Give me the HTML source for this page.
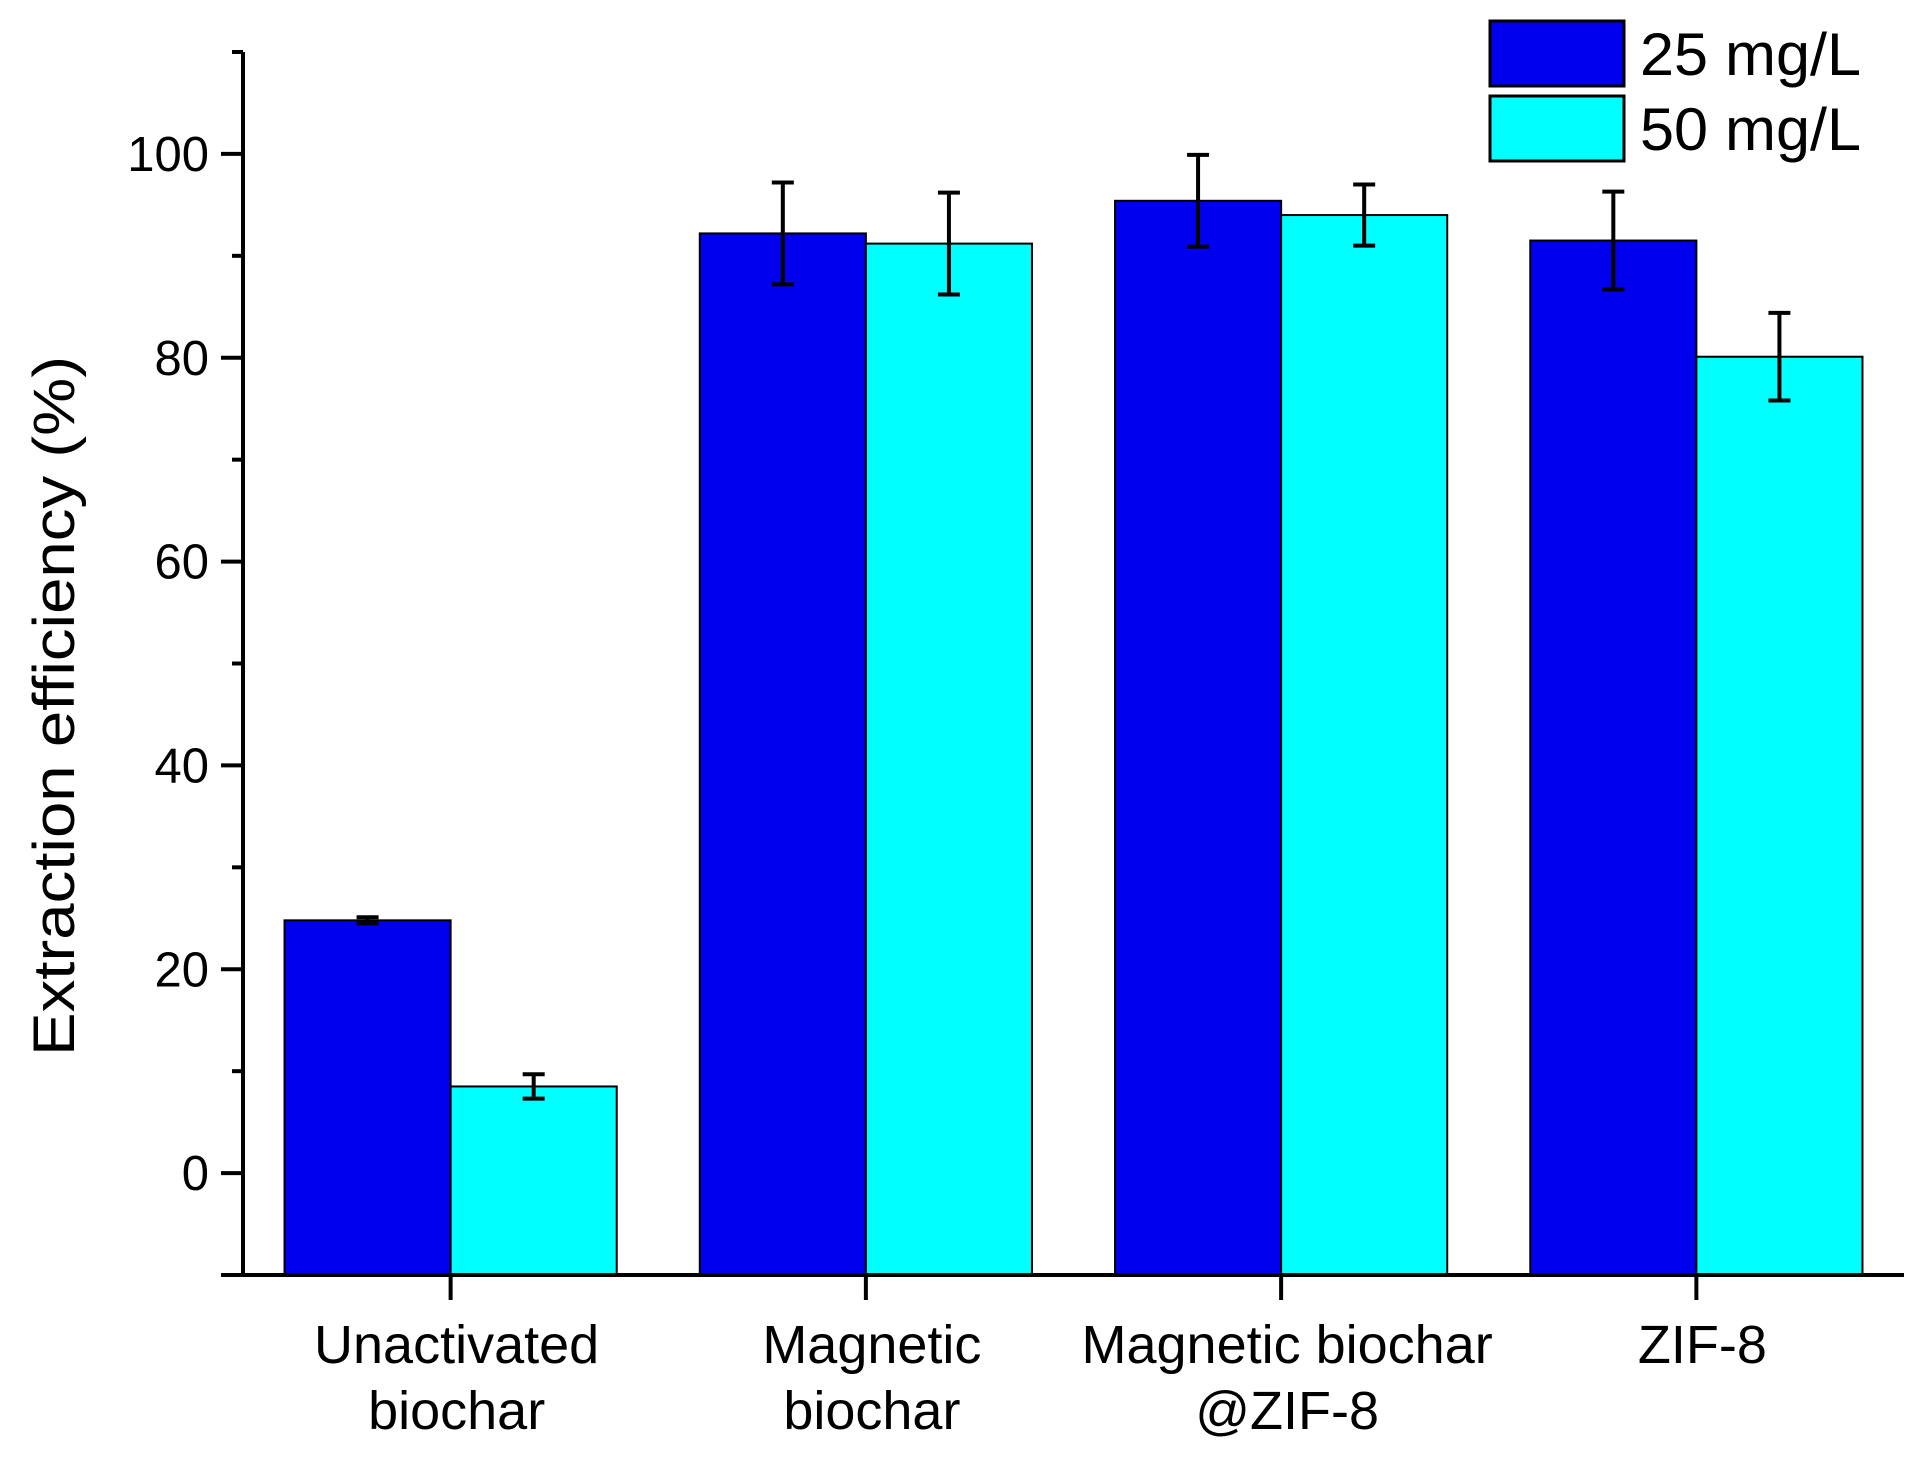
<!DOCTYPE html>
<html><head><meta charset="utf-8"><style>body{margin:0;background:#fff}svg{display:block}text{font-family:"Liberation Sans",sans-serif;fill:#000}</style></head>
<body>
<svg id="chart" width="1926" height="1462" viewBox="0 0 1926 1462" xmlns="http://www.w3.org/2000/svg">
<g id="plot"></g>
<text x="0" y="0" font-size="58" text-anchor="middle" transform="translate(74,706) rotate(-90)" textLength="700" lengthAdjust="spacingAndGlyphs">Extraction efficiency (%)</text>
<g>
<rect x="1490" y="21" width="134" height="65" fill="#0000ee" stroke="#000" stroke-width="3"/>
<rect x="1490" y="96" width="134" height="65" fill="#00ffff" stroke="#000" stroke-width="3"/>
<text x="1640" y="75" font-size="60" textLength="221" lengthAdjust="spacingAndGlyphs">25 mg/L</text>
<text x="1640" y="150" font-size="60" textLength="221" lengthAdjust="spacingAndGlyphs">50 mg/L</text>
</g>
</svg>
<script>
const categories=[["Unactivated","biochar"],["Magnetic","biochar"],["Magnetic biochar","@ZIF-8"],["ZIF-8",""]];
const series25=[24.8,92.2,95.4,91.5];
const err25=[0.3,5.0,4.5,4.8];
const series50=[8.5,91.2,94.0,80.1];
const err50=[1.2,5.0,3.0,4.3];
const yTicks=[0,20,40,60,80,100];
const yMinor=[10,30,50,70,90,110];

const NS="http://www.w3.org/2000/svg";
const g=document.getElementById('plot');
const X0=243,X1=1904,Y0=1275,Y1=52,vmin=-10,vmax=110;
function y(v){return Y0-(v-vmin)/(vmax-vmin)*(Y0-Y1);}
function x(i){return X0+(i+0.5)/categories.length*(X1-X0);}
const bw=(X1-X0)/categories.length*0.4;
function mk(tag,attrs){const e=document.createElementNS(NS,tag);for(const k in attrs)e.setAttribute(k,attrs[k]);g.appendChild(e);return e;}
function bars(vals,errs,off,color,nm){
  vals.forEach((v,i)=>{
    const left=x(i)+off*bw;
    const r=mk('rect',{x:left,y:y(v),width:bw,height:Y0-y(v),fill:color,stroke:'#000','stroke-width':2});
    
    
    const cx=left+bw/2,e=errs[i];
    const p=mk('path',{d:`M${cx},${y(v+e)}V${y(v-e)}M${cx-11},${y(v+e)}H${cx+11}M${cx-11},${y(v-e)}H${cx+11}`,stroke:'#000','stroke-width':4,fill:'none'});
    
    
  });
}
bars(series25,err25,-1,'#0000ee','conc-25');
bars(series50,err50,0,'#00ffff','conc-50');
const ax=mk('path',{d:`M${X0},${Y1}V${Y0}M${X0-22},${Y0}H${X1}`,stroke:'#000','stroke-width':4,fill:'none'});


yTicks.forEach(t=>{
  const l=mk('path',{d:`M${X0-22},${y(t)}H${X0}`,stroke:'#000','stroke-width':4});
  
  
  const tx=mk('text',{x:X0-34,y:y(t)+17,'font-size':49,'text-anchor':'end'});
  tx.textContent=t;
  
  
});
yMinor.forEach(t=>{
  const l=mk('path',{d:`M${X0-11},${y(t)}H${X0}`,stroke:'#000','stroke-width':4});
  
  
});
categories.forEach((c,i)=>{
  const l=mk('path',{d:`M${x(i)},${Y0}V${Y0+25}`,stroke:'#000','stroke-width':4});
  
  
  c.forEach((line,j)=>{
    if(!line)return;
    const t=mk('text',{x:x(i)+6,y:1363+j*66,'font-size':54,'text-anchor':'middle'});
    t.textContent=line;
    
    
  });
});
</script>
</body></html>
